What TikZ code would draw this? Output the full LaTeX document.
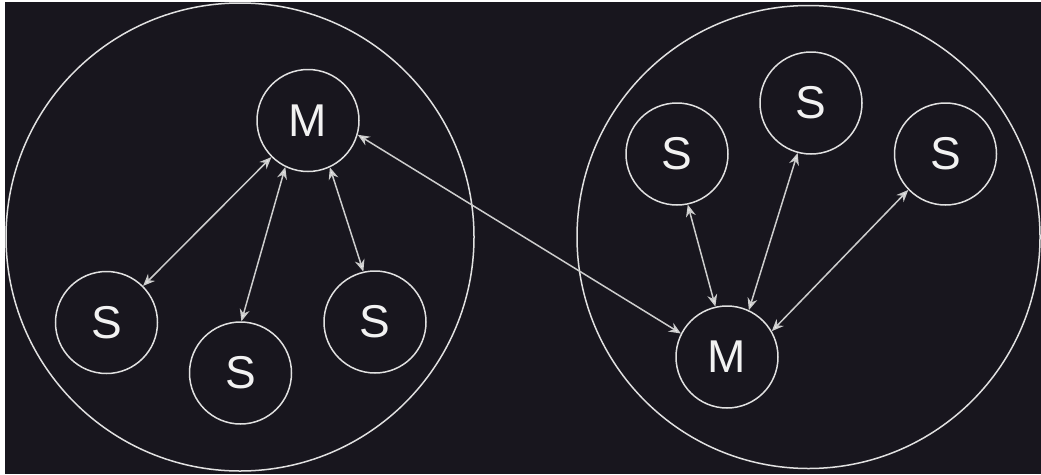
\documentclass[tikz,border=0pt]{standalone}
\usepackage{fontspec}
\setmainfont{Liberation Sans}
\usetikzlibrary{arrows.meta}
\definecolor{bg}{RGB}{24,22,30}
\definecolor{ring}{RGB}{225,225,225}
\definecolor{link}{RGB}{205,205,205}
\definecolor{label}{RGB}{242,242,242}
\begin{document}
\begin{tikzpicture}[x=1pt,y=-1pt,
  zone/.style={circle,draw=ring,line width=1.5pt,minimum size=#1,inner sep=0pt},
  peer/.style={circle,draw=ring,line width=1.5pt,minimum size=102pt,inner sep=0pt,
    text=label,font=\fontsize{46}{46}\selectfont},
  sync/.style={draw=link,line width=1.5pt,
    {Stealth[length=12pt,width=10pt,inset=4pt,fill=label]}-{Stealth[length=12pt,width=10pt,inset=4pt,fill=label]}}]
  % canvas
  \fill[white] (0,0) rectangle (1041,474);
  \fill[bg] (5,2) rectangle (1041,474);
  \useasboundingbox (0,0) rectangle (1041,474);
  % clusters
  \node[zone=468pt] (left) at (240,237) {};
  \node[zone=463pt] (right) at (808.5,237) {};
  % left cluster
  \node[peer] (m1) at (308,120.5) {M};
  \node[peer] (a1) at (106.5,322.5) {S};
  \node[peer] (a2) at (240.5,373) {S};
  \node[peer] (a3) at (375,322) {S};
  % right cluster
  \node[peer] (m2) at (727,357) {M};
  \node[peer] (b1) at (677,154) {S};
  \node[peer] (b2) at (811,103) {S};
  \node[peer] (b3) at (945.5,154) {S};
  % replication links
  \draw[sync] (m1.225) -- (a1.45);
  \draw[sync] (m1.244) -- (a2.89);
  \draw[sync] (m1.295) -- (a3.103);
  \draw[sync] (b1.282) -- (m2.103);
  \draw[sync] (b2.255) -- (m2.65);
  \draw[sync] (b3.224) -- (m2.30);
  \draw[sync] (m1.344) -- (m2.153);
\end{tikzpicture}
\end{document}
